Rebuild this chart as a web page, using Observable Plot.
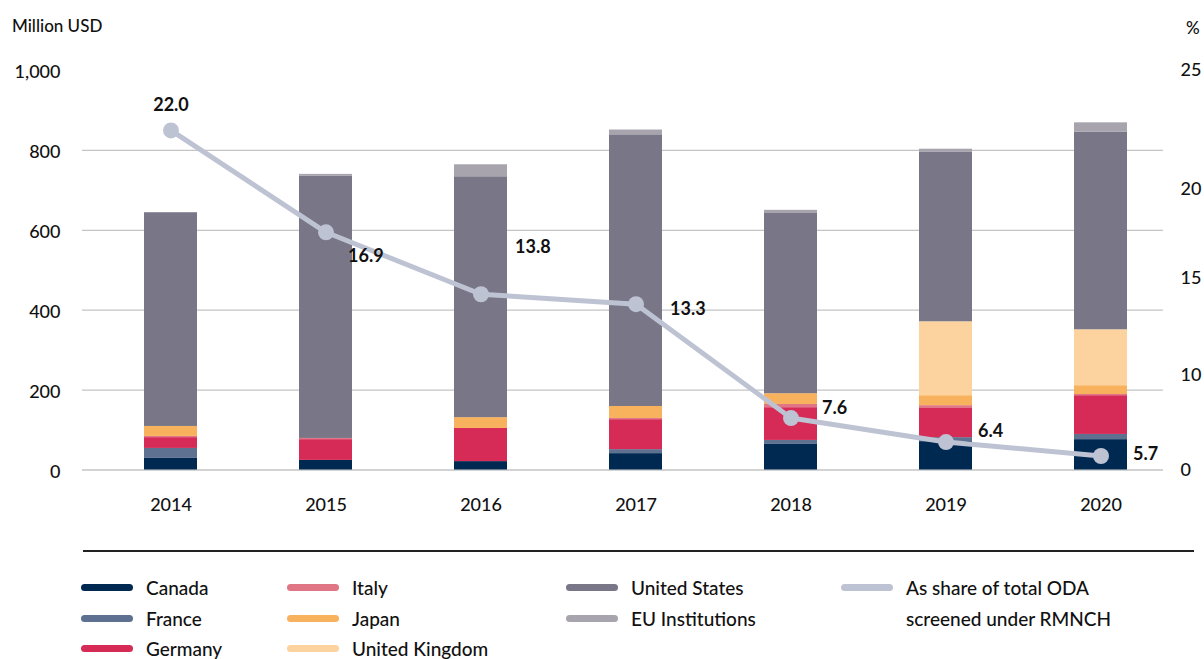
<!DOCTYPE html>
<html><head><meta charset="utf-8">
<script src="https://cdn.jsdelivr.net/npm/d3@7"></script>
<script src="https://cdn.jsdelivr.net/npm/@observablehq/plot@0.6"></script>
<style>
body{margin:0;background:#fff;font-family:Lato,"Noto Sans",sans-serif;color:#111;}
#wrap{position:relative;width:1204px;height:659px;overflow:hidden;}
#chart{position:absolute;left:0;top:0;}
.ttl{position:absolute;font-size:17px;font-weight:500;line-height:1;}
#sep{position:absolute;left:83px;top:550px;width:1111px;height:2px;background:#222;}
.lg{position:absolute;display:flex;align-items:center;font-size:19px;font-weight:500;line-height:1;white-space:nowrap;}
.sw{display:inline-block;width:52px;height:7px;border-radius:4px;margin-right:13px;}
</style></head><body>
<div id="wrap"><div id="chart"></div>
<div class="ttl" style="left:12px;top:17px;">Million USD</div>
<div class="ttl" style="left:1186px;top:19px;">%</div>
<div id="sep"></div>
<div id="legend"></div>
</div>
<script>
const years = [2014, 2015, 2016, 2017, 2018, 2019, 2020];
const canada  = [29, 24, 21, 41, 64, 71, 76];
const france  = [25, 0, 0, 10, 10, 10, 13];
const germany = [27, 52, 83, 75, 82, 73, 97];
const italy   = [3, 3, 0, 3, 8, 7, 3];
const japan   = [25, 0, 27, 30, 27, 25, 22];
const uk      = [0, 0, 0, 0, 0, 185, 140];
const us      = [535, 656, 603, 680, 451, 424, 495];
const eu      = [0, 5, 30, 12, 8, 8, 23];
const share   = [22.0, 16.9, 13.8, 13.3, 7.6, 6.4, 5.7];
const leftTicks = [0, 200, 400, 600, 800, 1000];
const rightTickLabels = ["0", "10", "15", "20", "25"];
const rightTickAt = [5.0, 9.72, 14.62, 19.04, 25.0];

const series = ["Canada","France","Germany","Italy","Japan","United Kingdom","United States","EU Institutions"];
const colors = ["#002952","#5f7191","#d62b57","#e07585","#f8b25e","#fcd29f","#787687","#a7a4ae"];
const lineColor = "#bec3d3";
const lineLabel = ["As share of total ODA", "screened under RMNCH"];

const values = [canada, france, germany, italy, japan, uk, us, eu];
const rows = series.flatMap((s, i) => years.map((y, j) => ({year: String(y), donor: s, value: values[i][j]})));
// share axis maps 5% -> 0 and 25% -> 1000 on the bar scale
const pctToY = p => (p - 5) * 50;
const pts = years.map((y, j) => ({year: String(y), share: share[j], yv: pctToY(share[j])}));
const rightMap = new Map(rightTickAt.map((p, i) => [pctToY(p), rightTickLabels[i]]));

const labelDx = [0, 22, 34, 34, 31, 32, 32];
const labelDy = [-25, 24, -47, 5, -10, -11, -2];

const font = 'Lato, "Noto Sans", sans-serif';
const chart = Plot.plot({
  width: 1204, height: 545,
  marginTop: 70, marginBottom: 75.5, marginLeft: 82, marginRight: 41,
  style: {fontFamily: font, fontSize: "18px", color: "#111", background: "#fff"},
  x: {type: "band", domain: years.map(String), range: [95, 1176], paddingInner: 0.658, paddingOuter: 0.316},
  y: {domain: [0, 1000]},
  color: {domain: series, range: colors},
  marks: [
    Plot.ruleY([0, 200, 400, 600, 800], {stroke: "#c4c4c4", strokeWidth: 1.3}),
    Plot.barY(rows, {x: "year", y: "value", fill: "donor", order: series}),
    Plot.axisX({tickSize: 0, tickPadding: 28, label: null, fontWeight: 500, fontSize: 18}),
    Plot.axisY({ticks: leftTicks, tickSize: 0, tickPadding: 22, tickFormat: d3.format(","), label: null, fontWeight: 500, fontSize: 18, dy: 2}),
    Plot.axisY({anchor: "right", ticks: [...rightMap.keys()], tickSize: 0, tickPadding: 17, textAnchor: "start", tickFormat: d => rightMap.get(d), label: null, fontWeight: 500, fontSize: 18}),
    Plot.line(pts, {x: "year", y: "yv", stroke: lineColor, strokeWidth: 5}),
    Plot.dot(pts, {x: "year", y: "yv", r: 8, fill: lineColor}),
    ...pts.map((p, j) => Plot.text([p], {x: "year", y: "yv", text: d => d.share.toFixed(1),
      dx: labelDx[j], dy: labelDy[j], textAnchor: j === 0 ? "middle" : "start",
      fontWeight: 700, fontSize: 18, fill: "#111"}))
  ]
});
document.getElementById("chart").appendChild(chart);

const legend = document.getElementById("legend");
const colLeft = [81, 287, 566];
const rowTop = [588, 619, 649];
series.forEach((s, i) => {
  const c = Math.floor(i / 3), r = i % 3;
  const d = document.createElement("div");
  d.className = "lg";
  d.style.left = colLeft[c] + "px";
  d.style.top = (rowTop[r] - 10) + "px";
  d.innerHTML = `<span class="sw" style="background:${colors[i]}"></span><span>${s}</span>`;
  legend.appendChild(d);
});
const ld = document.createElement("div");
ld.className = "lg";
ld.style.left = "841px"; ld.style.top = (rowTop[0] - 10) + "px"; ld.style.alignItems = "flex-start";
ld.innerHTML = `<span class="sw" style="background:${lineColor};margin-top:6px"></span><span style="line-height:31px;margin-top:-6px">${lineLabel.join("<br>")}</span>`;
legend.appendChild(ld);
</script>
</body></html>
